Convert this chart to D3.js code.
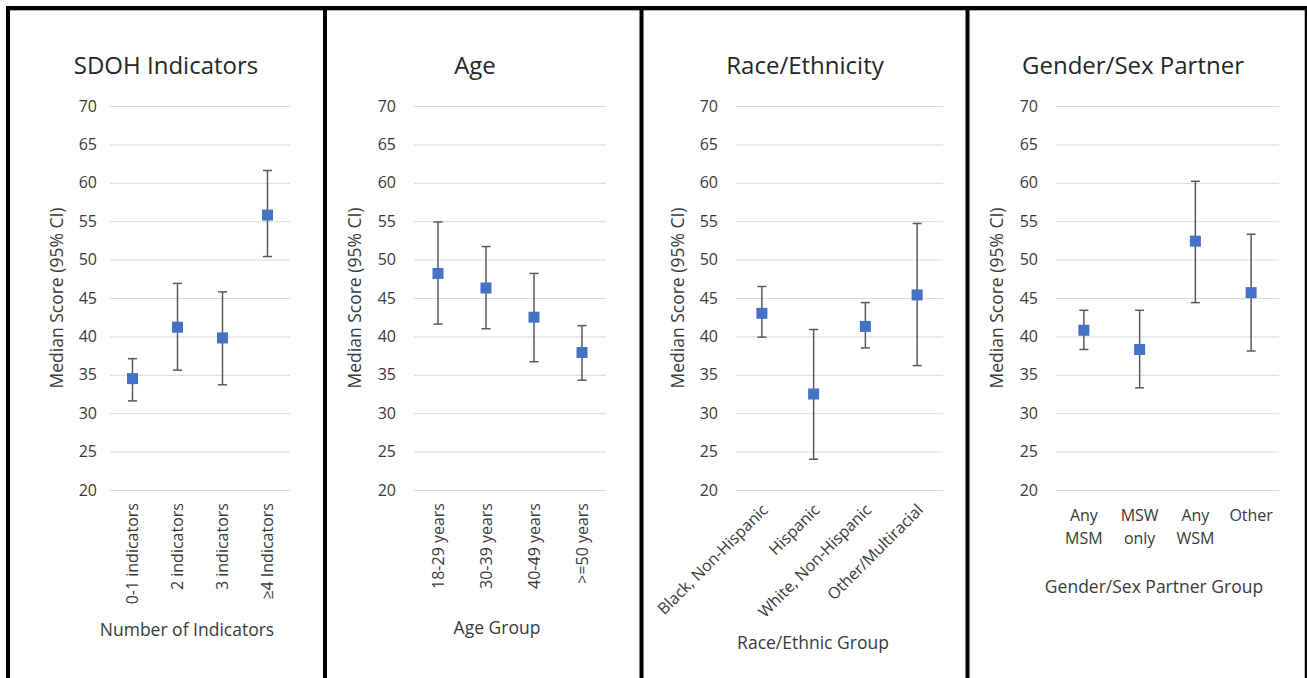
<!DOCTYPE html>
<html>
<head>
<meta charset="utf-8">
<script src="https://cdn.jsdelivr.net/npm/d3@7"></script>
<style>
  html, body { margin: 0; padding: 0; background: #fff; }
  svg text { font-family: "Open Sans", "Noto Sans", sans-serif; fill: #3a3a3a; }
</style>
</head>
<body>
<div id="viz"></div>
<script>
// Median score (95% CI) by group, four panels side by side

var panelTitles = ["SDOH Indicators", "Age", "Race/Ethnicity", "Gender/Sex Partner"];
var axisTitles = ["Number of Indicators", "Age Group", "Race/Ethnic Group", "Gender/Sex Partner Group"];
var yTitle = "Median Score (95% CI)";
var yTicks = [20, 25, 30, 35, 40, 45, 50, 55, 60, 65, 70];

var sdohGroups = ["0-1 indicators", "2 indicators", "3 indicators", "\u22654 Indicators"];
var sdohMedian = [34.5, 41.2, 39.8, 55.8];
var sdohLower  = [31.6, 35.6, 33.7, 50.4];
var sdohUpper  = [37.1, 46.9, 45.8, 61.6];

var ageGroups = ["18-29 years", "30-39 years", "40-49 years", ">=50 years"];
var ageMedian = [48.2, 46.3, 42.5, 37.9];
var ageLower  = [41.6, 41.0, 36.7, 34.3];
var ageUpper  = [54.9, 51.7, 48.2, 41.4];

var raceGroups = ["Black, Non-Hispanic", "Hispanic", "White, Non-Hispanic", "Other/Multiracial"];
var raceMedian = [43.0, 32.5, 41.3, 45.4];
var raceLower  = [39.9, 24.0, 38.5, 36.2];
var raceUpper  = [46.5, 40.9, 44.4, 54.7];

var genderGroups = ["Any MSM", "MSW only", "Any WSM", "Other"];
var genderMedian = [40.8, 38.3, 52.4, 45.7];
var genderLower  = [38.3, 33.3, 44.4, 38.1];
var genderUpper  = [43.4, 43.4, 60.2, 53.3];

// layout of each panel (pixels), kept apart from the data
var layout = [
  {x0: 110,  x1: 290,  gap: 13, yLabX: 57,  titleX: 166,  axisX: 187,  axisY: 636, mode: "v"},
  {x0: 414,  x1: 606,  gap: 18, yLabX: 355, titleX: 475,  axisX: 497,  axisY: 634, mode: "v"},
  {x0: 736,  x1: 943,  gap: 18, yLabX: 678, titleX: 805,  axisX: 813,  axisY: 649, mode: "d"},
  {x0: 1056, x1: 1279, gap: 18, yLabX: 997, titleX: 1133, axisX: 1154, axisY: 593, mode: "h"}
];
var borderX = [8, 325, 641.5, 967.5];

var panels = [
  {groups: sdohGroups,   med: sdohMedian,   lo: sdohLower,   hi: sdohUpper},
  {groups: ageGroups,    med: ageMedian,    lo: ageLower,    hi: ageUpper},
  {groups: raceGroups,   med: raceMedian,   lo: raceLower,   hi: raceUpper},
  {groups: genderGroups, med: genderMedian, lo: genderLower, hi: genderUpper}
];

var W = 1307, H = 678;
var svg = d3.select("#viz").append("svg")
    .attr("width", W).attr("height", H);

var y = d3.scaleLinear().domain([20, 70]).range([490, 106]);

function drawPanel(p, L, i) {
    var g = svg.append("g").attr("class", "panel" + i);
    var x = d3.scaleBand().domain(p.groups).range([L.x0, L.x1]);
    var cx = function(d) { return x(d) + x.bandwidth() / 2; };

    // gridlines + y tick labels
    var yAxis = d3.axisLeft(y).tickValues(yTicks)
        .tickSize(-(L.x1 - L.x0)).tickPadding(L.gap);
    var ya = g.append("g").attr("transform", "translate(" + L.x0 + ",0)").call(yAxis);
    ya.select(".domain").remove();
    ya.selectAll(".tick line").attr("stroke", "#d9d9d9").attr("stroke-width", 1);
    ya.selectAll(".tick text").style("font-size", "16px").style("font-family", null);

    // category labels
    var xAxis = d3.axisBottom(x).tickSize(0).tickPadding(0);
    var xa = g.append("g").attr("transform", "translate(0,490)").call(xAxis);
    xa.select(".domain").remove();
    var tt = xa.selectAll(".tick text").style("font-size", "16px").style("font-family", null);
    if (L.mode == "v") {
        tt.attr("y", 0).attr("x", -13).attr("dy", "0.35em")
          .attr("transform", "rotate(-90)").style("text-anchor", "end");
    } else if (L.mode == "d") {
        tt.attr("y", 0).attr("x", 0).attr("dy", "0.35em")
          .attr("transform", "translate(3,17) rotate(-45)").style("text-anchor", "end");
    } else {
        tt.each(function(d) {
            var t = d3.select(this).text(null).attr("y", 0).attr("dy", null);
            d.split(" ").forEach(function(w, k) {
                t.append("tspan").attr("x", 0).attr("y", 31 + 23 * k).text(w);
            });
        });
    }

    // error bars
    var idx = d3.range(p.groups.length);
    g.selectAll(".err").data(idx).enter().append("line")
        .attr("x1", function(k) { return cx(p.groups[k]); })
        .attr("x2", function(k) { return cx(p.groups[k]); })
        .attr("y1", function(k) { return y(p.lo[k]); })
        .attr("y2", function(k) { return y(p.hi[k]); })
        .attr("stroke", "#595959").attr("stroke-width", 1.5);
    [p.lo, p.hi].forEach(function(arr) {
        g.selectAll(null).data(idx).enter().append("line")
            .attr("x1", function(k) { return cx(p.groups[k]) - 4.5; })
            .attr("x2", function(k) { return cx(p.groups[k]) + 4.5; })
            .attr("y1", function(k) { return y(arr[k]); })
            .attr("y2", function(k) { return y(arr[k]); })
            .attr("stroke", "#595959").attr("stroke-width", 1.5);
    });

    // median markers
    g.selectAll(".pt").data(idx).enter().append("rect")
        .attr("x", function(k) { return cx(p.groups[k]) - 5.5; })
        .attr("y", function(k) { return y(p.med[k]) - 5.5; })
        .attr("width", 11).attr("height", 11)
        .attr("fill", "#4472c4");

    // titles
    g.append("text").attr("x", L.titleX).attr("y", 74)
        .attr("text-anchor", "middle").style("font-size", "24px").style("fill", "#262626")
        .text(panelTitles[i]);
    g.append("text")
        .attr("transform", "translate(" + L.yLabX + "," + (y(45)) + ") rotate(-90)")
        .attr("text-anchor", "middle").attr("dy", "0.35em").style("font-size", "17.5px")
        .text(yTitle);
    g.append("text").attr("x", L.axisX).attr("y", L.axisY)
        .attr("text-anchor", "middle").style("font-size", "17.5px")
        .text(axisTitles[i]);
}

for (var i in panels)
    drawPanel(panels[i], layout[i], +i);

// panel frames
svg.append("line").attr("x1", 6).attr("x2", W).attr("y1", 8).attr("y2", 8)
    .attr("stroke", "#000").attr("stroke-width", 4);
svg.append("line").attr("x1", 10).attr("x2", W).attr("y1", 10.5).attr("y2", 10.5)
    .attr("stroke", "#b0b0b0").attr("stroke-width", 1);
borderX.forEach(function(bx) {
    svg.append("line").attr("x1", bx).attr("x2", bx).attr("y1", 6).attr("y2", H)
        .attr("stroke", "#000").attr("stroke-width", 4);
});
svg.append("line").attr("x1", 1306).attr("x2", 1306).attr("y1", 6).attr("y2", H)
    .attr("stroke", "#000").attr("stroke-width", 2.5);
</script>
</body>
</html>
